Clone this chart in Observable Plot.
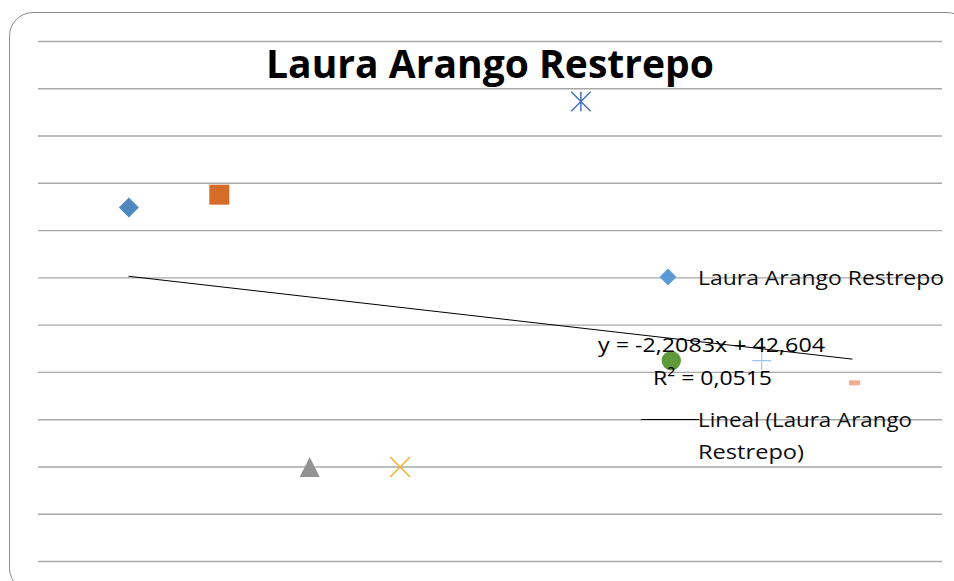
<!DOCTYPE html>
<html>
<head>
<meta charset="utf-8">
<script src="https://cdn.jsdelivr.net/npm/d3@7"></script>
<script src="https://cdn.jsdelivr.net/npm/@observablehq/plot@0.6"></script>
<style>
  html, body { margin: 0; padding: 0; background: #fff; }
  #wrap { position: relative; width: 954px; height: 581px; overflow: hidden; background: #fff; }
  #frame { position: absolute; left: 9px; top: 12px; width: 962px; height: 580px;
           border: 1.3px solid #8c8c8c; border-radius: 24px; box-sizing: border-box; }
  #chart { position: absolute; left: 0; top: 0; }
</style>
</head>
<body>
<div id="wrap">
  <div id="frame"></div>
  <div id="chart"></div>
</div>
<script>
// ---- data ----
const title = "Laura Arango Restrepo";
const seriesName = "Laura Arango Restrepo";
const trendLabel = ["Lineal (Laura Arango", "Restrepo)"];
const equationText = "y = -2,2083x + 42,604";
const r2Text = "R² = 0,0515";
const xValues = [1, 2, 3, 4, 6, 7, 8, 9];
const yValues = [54.9, 57.6, 0, 0, 77.3, 22.5, 22.5, 17.8];
const markerKinds = ["diamond", "square", "triangle", "times", "asterisk", "circle", "plus", "dash"];
const markerColors = ["#4f88bf", "#d56c2a", "#929292", "#f0b32e", "#4472c4", "#5e9a3a", "#9dc3e6", "#f3ad8c"];
const yTicks = [-20, -10, 0, 10, 20, 30, 40, 50, 60, 70, 80, 90];

// ---- custom symbols (size -> half-extent h) ----
const H = s => Math.sqrt(s / Math.PI);
const symbols = {
  diamond: {draw(c, s) { const h = H(s); c.moveTo(0, -h); c.lineTo(h, 0); c.lineTo(0, h); c.lineTo(-h, 0); c.closePath(); }},
  square: {draw(c, s) { const h = H(s); c.rect(-h, -h, 2 * h, 2 * h); }},
  triangle: {draw(c, s) { const h = H(s); c.moveTo(0, -h); c.lineTo(h, h); c.lineTo(-h, h); c.closePath(); }},
  times: {draw(c, s) { const h = H(s); c.moveTo(-h, -h); c.lineTo(h, h); c.moveTo(h, -h); c.lineTo(-h, h); }},
  asterisk: {draw(c, s) { const h = H(s); c.moveTo(-h, -h); c.lineTo(h, h); c.moveTo(h, -h); c.lineTo(-h, h); c.moveTo(0, -h); c.lineTo(0, h); }},
  circle: {draw(c, s) { const h = H(s); c.moveTo(h, 0); c.arc(0, 0, h, 0, 2 * Math.PI); }},
  plus: {draw(c, s) { const h = H(s); c.moveTo(-h, 0); c.lineTo(h, 0); c.moveTo(0, -h); c.lineTo(0, h); }},
  dash: {draw(c, s) { const h = H(s); c.rect(-h + 2.5, -h * 0.45, 2 * h, h * 0.9); }}
};
const markerR = {diamond: 10, square: 10, triangle: 10, times: 10, asterisk: 9.7, circle: 9.7, plus: 9.5, dash: 5.5};
const strokeKinds = new Set(["times", "asterisk", "plus"]);

const points = xValues.map((x, i) => ({x, y: yValues[i], kind: markerKinds[i], color: markerColors[i]}));

const dotMarks = points.map(p => {
  const isStroke = strokeKinds.has(p.kind);
  return Plot.dot([p], {
    x: "x", y: "y",
    symbol: symbols[p.kind],
    r: markerR[p.kind],
    fill: isStroke ? "none" : p.color,
    stroke: isStroke ? p.color : "none",
    strokeWidth: p.kind === "plus" ? 1.1 : 1.5
  });
});

const chart = Plot.plot({
  width: 954,
  height: 581,
  marginLeft: 38,
  marginRight: 12,
  marginTop: 41,
  marginBottom: 20,
  x: {domain: [0, 10], axis: null},
  y: {domain: [-20, 90], axis: null},
  style: {background: "transparent"},
  marks: [
    Plot.gridY(yTicks, {stroke: "#a8a8a8", strokeOpacity: 1, strokeWidth: 1.4}),
    ...dotMarks,
    Plot.linearRegressionY(points, {x: "x", y: "y", stroke: "#000", strokeWidth: 1, ci: 0})
  ]
});
document.getElementById("chart").appendChild(chart);

// ---- title, trendline label, legend ----
const svg = d3.select(chart);
const ff = "'Open Sans', 'DejaVu Sans', sans-serif";
function addText(txt, x, y, size, len, opts = {}) {
  return svg.append("text")
    .attr("x", x).attr("y", y)
    .attr("text-anchor", "start")
    .style("text-anchor", "start")
    .attr("font-family", ff)
    .attr("font-size", size)
    .attr("font-weight", opts.bold ? 700 : 400)
    .attr("fill", opts.fill || "#000")
    .attr("textLength", len)
    .attr("lengthAdjust", opts.adjust || "spacingAndGlyphs")
    .text(txt);
}
addText(title, 266, 78, 39, 448, {bold: true});
addText(equationText, 598, 352, 20.5, 227);
addText(r2Text, 653, 385, 20.5, 119);

// legend
svg.append("path")
  .attr("transform", "translate(668,277)")
  .attr("d", "M0,-8.5L8.5,0L0,8.5L-8.5,0Z")
  .attr("fill", "#5b9bd5");
addText(seriesName, 698, 285, 20.5, 246, {fill: "#0d0d0d"});
svg.append("line")
  .attr("x1", 641).attr("x2", 699).attr("y1", 419.5).attr("y2", 419.5)
  .attr("stroke", "#000").attr("stroke-width", 1);
addText(trendLabel[0], 698, 427, 20.5, 214, {fill: "#0d0d0d"});
addText(trendLabel[1], 698, 459, 20.5, 106, {fill: "#0d0d0d"});
</script>
</body>
</html>
